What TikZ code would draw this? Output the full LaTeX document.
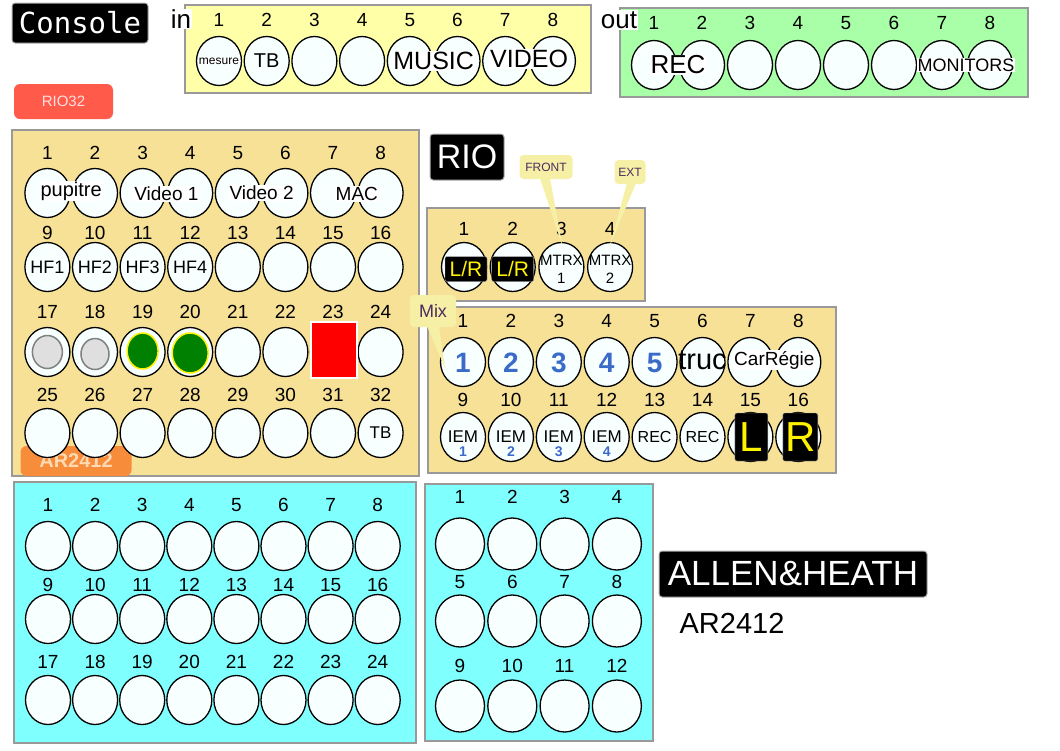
\documentclass[tikz,border=0pt]{standalone}
\usepackage{fontspec}
\setmainfont{Liberation Sans}
\newfontfamily\consolefont{DejaVu Sans Mono}
\usepackage{tikz}
\usetikzlibrary{shapes.geometric,calc}

\definecolor{inyellow}{HTML}{FFFFA8}
\definecolor{outgreen}{HTML}{A8FFA8}
\definecolor{riowheat}{HTML}{F7E196}
\definecolor{arcyan}{HTML}{80FFFF}
\definecolor{jackwhite}{HTML}{F8FFFF}
\definecolor{tipyellow}{HTML}{F6F0A6}
\definecolor{tiptext}{HTML}{4B2C5E}
\definecolor{mixblue}{HTML}{3A6BC8}
\definecolor{riored}{HTML}{FF5A4A}
\definecolor{arorange}{HTML}{F78C3A}

\newcommand\fsz[1]{\fontsize{#1}{#1}\selectfont}

\tikzset{
  panel/.style={draw=gray!80, line width=1.5pt},
  jack/.style={ellipse, draw=black, line width=1.3pt, fill=jackwhite, minimum width=45pt, minimum height=49pt, inner sep=0pt},
  num/.style={font=\fsz{19}, inner sep=0pt},
  tag/.style={fill=white, inner sep=1pt},
  titlebox/.style={fill=black, text=white, rounded corners=3pt, draw=gray!60, line width=1pt, inner sep=0pt},
  tipbox/.style={fill=tipyellow, text=tiptext, rounded corners=4pt, inner sep=0pt},
  keycap/.style={fill=black, text=yellow, rounded corners=2pt, draw=gray!60, inner sep=0pt}
}

\begin{document}
\begin{tikzpicture}[x=1pt,y=-1pt]
    \useasboundingbox (0,0) rectangle (1060,750);

    % Draw the console header
    \node[titlebox, font=\consolefont\fsz{29}, minimum width=136pt, minimum height=40pt] (console) at (80,23) {Console};

    % Draw the console inputs
    \draw[panel, fill=inyellow] (185,5) rectangle (591,93);
    \node[tag, font=\fsz{26}] (inlabel) at (181,19) {in};
    \foreach \i in {1,...,8} {
        \node[num] (innum\i) at ({219+47.7*(\i-1)},20) {\i};
        \node[jack] (in\i) at ({219+47.7*(\i-1)},61) {};
    }
    \node[tag, font=\fsz{12}, inner sep=0pt] (mesure) at (in1) {mesure};
    \node[font=\fsz{20}] (intb) at (in2) {TB};
    \node[tag, font=\fsz{25}] (music) at ($(in5)!0.5!(in6)$) {MUSIC};
    \node[tag, font=\fsz{25}] (video) at ($(in7)!0.5!(in8)+(0,-2)$) {VIDEO};

    % Draw the console outputs
    \draw[panel, fill=outgreen] (620,8) rectangle (1028,97);
    \node[tag, font=\fsz{26}] (outlabel) at (619,20) {out};
    \foreach \i in {1,...,8} {
        \node[num] (outnum\i) at ({654+48*(\i-1)},23) {\i};
        \node[jack] (out\i) at ({654+48*(\i-1)},65) {};
    }
    \node[tag, font=\fsz{26}] (rec) at ($(out1)!0.5!(out2)$) {REC};
    \node[tag, font=\fsz{18}] (monitors) at ($(out7)!0.5!(out8)$) {MONITORS};

    % Draw the RIO32 button
    \node[fill=riored, text=red!12, rounded corners=6pt, font=\fsz{15}, minimum width=99pt, minimum height=35pt] (rio32btn) at (63.5,101.5) {RIO32};

    % Draw the RIO32 inputs
    \draw[panel, fill=riowheat] (12,130) rectangle (419,476);
    \node[fill=arorange, text=orange!30, rounded corners=6pt, font=\bfseries\fsz{20}, minimum width=111pt, minimum height=30pt, inner sep=0pt] (artab) at (76,461) {AR2412};
    \foreach \r/\ny/\cy in {0/153/193, 1/233/267, 2/312/352, 3/395/433} {
        \foreach \c in {1,...,8} {
            \pgfmathtruncatemacro\n{8*\r+\c}
            \node[num] (rnum\n) at ({47.4+47.6*(\c-1)},\ny) {\n};
            \node[jack] (r\n) at ({47.4+47.6*(\c-1)},\cy) {};
        }
    }
    \node[tag, font=\fsz{20}] (pupitre) at ($(r1)!0.5!(r2)+(0,-2)$) {pupitre};
    \node[tag, font=\fsz{19}] (video1) at ($(r3)!0.5!(r4)+(0,1)$) {Video 1};
    \node[tag, font=\fsz{19}] (video2) at ($(r5)!0.5!(r6)$) {Video 2};
    \node[tag, font=\fsz{19}] (mac) at ($(r7)!0.5!(r8)+(0,1)$) {MAC};
    \foreach \i/\j in {9/1, 10/2, 11/3, 12/4}
        \node[font=\fsz{18}, inner sep=0pt] (hf\j) at (r\i) {HF\j};
    \node[ellipse, fill=gray!25, draw=gray, line width=1.5pt, minimum width=30pt, minimum height=33pt, inner sep=0pt] (r17in) at (r17) {};
    \node[ellipse, fill=gray!25, draw=gray, line width=1.5pt, minimum width=28pt, minimum height=31pt, inner sep=0pt] (r18in) at ($(r18)+(0,2)$) {};
    \node[ellipse, fill=green!50!black, draw=yellow, line width=1.5pt, minimum width=31pt, minimum height=36pt, inner sep=0pt] (r19in) at ($(r19)+(0,-1)$) {};
    \node[ellipse, fill=green!50!black, draw=yellow, line width=1.5pt, minimum width=36pt, minimum height=40pt, inner sep=0pt] (r20in) at ($(r20)+(0,1)$) {};
    \node[fill=red, draw=white, line width=1.5pt, minimum width=46pt, minimum height=56pt, inner sep=0pt] (r23box) at (334,350) {};
    \node[font=\fsz{17}] (r32tb) at (r32) {TB};

    % Draw the RIO header
    \node[titlebox, font=\fsz{34}, minimum width=74pt, minimum height=46pt] (rio) at (467,157) {RIO};

    % Draw the RIO outputs
    \draw[panel, fill=riowheat] (427,208) rectangle (645,301);
    \foreach \i in {1,...,4} {
        \node[num] (onum\i) at ({464+48.7*(\i-1)},229) {\i};
        \node[jack] (o\i) at ({464+48.7*(\i-1)},267) {};
    }
    \node[keycap, font=\fsz{21}, minimum width=42pt, minimum height=25pt] (lr1) at ($(o1)+(2,2)$) {L/R};
    \node[keycap, font=\fsz{21}, minimum width=42pt, minimum height=25pt] (lr2) at ($(o2)+(0,2)$) {L/R};
    \node[align=center, font=\fontsize{15}{18}\selectfont, inner sep=0pt] (mtrx1) at ($(o3)+(0,2)$) {MTRX\\1};
    \node[align=center, font=\fontsize{15}{18}\selectfont, inner sep=0pt] (mtrx2) at ($(o4)+(0,2)$) {MTRX\\2};

    % Draw the FRONT and EXT notes
    \node[tipbox, font=\fsz{12}, minimum width=53pt, minimum height=24pt] (front) at (546,167) {FRONT};
    \fill[tipyellow] ($(front.south)+(-6,-1)$) -- ($(o3.north)+(1,4)$) -- ($(front.south)+(4,-1)$) -- cycle;
    \node[tipbox, font=\fsz{12}, minimum width=31pt, minimum height=24pt] (ext) at (630,172) {EXT};
    \fill[tipyellow] ($(ext.south)+(-3,-1)$) -- ($(o4.north)+(-1,6)$) -- ($(ext.south)+(6,-1)$) -- cycle;

    % Draw the mix outputs
    \draw[panel, fill=riowheat] (428,307) rectangle (836,473);
    \foreach \r/\ny/\cy in {0/321/362, 1/400/437} {
        \foreach \c in {1,...,8} {
            \pgfmathtruncatemacro\n{8*\r+\c}
            \node[num] (mnum\n) at ({463+47.9*(\c-1)},\ny) {\n};
            \node[jack] (m\n) at ({463+47.9*(\c-1)},\cy) {};
        }
    }
    \foreach \i in {1,...,5}
        \node[font=\bfseries\fsz{28}, text=mixblue, inner sep=0pt] (mix\i) at ($(m\i)+(0,1)$) {\i};
    \node[font=\fsz{29}, inner sep=0pt] (truc) at ($(m6)+(0,-2)$) {truc};
    \node[tag, font=\fsz{19}] (carregie) at ($(m7)!0.5!(m8)+(0,-2)$) {CarRégie};
    \foreach \i/\j in {9/1, 10/2, 11/3, 12/4} {
        \node[font=\fsz{17}, inner sep=0pt] (iem\j) at ($(m\i)+(0,0)$) {IEM};
        \node[font=\bfseries\fsz{14}, text=mixblue, inner sep=0pt] (iemnum\j) at ($(m\i)+(0,15)$) {\j};
    }
    \node[font=\fsz{16}, inner sep=0pt] (rec13) at (m13) {REC};
    \node[font=\fsz{16}, inner sep=0pt] (rec14) at (m14) {REC};
    \node[keycap, font=\fsz{42}, minimum width=33pt, minimum height=48pt] (keyl) at ($(m15)+(1,0)$) {L};
    \node[keycap, font=\fsz{42}, minimum width=35pt, minimum height=48pt] (keyr) at ($(m16)+(2,0)$) {R};

    % Draw the Mix note
    \node[tipbox, font=\fsz{18}, minimum width=46pt, minimum height=32pt] (mix) at (433,311) {Mix};
    \fill[tipyellow] ($(mix.south)+(-6,-1)$) -- ($(m1)+(-18,6)$) -- ($(mix.south)+(6,-1)$) -- cycle;

    % Draw the AR2412 inputs
    \draw[panel, fill=arcyan] (14,482) rectangle (416,743);
    \foreach \r/\ny/\cy in {0/505/546, 1/585/619, 2/662/700} {
        \foreach \c in {1,...,8} {
            \pgfmathtruncatemacro\n{8*\r+\c}
            \node[num] (anum\n) at ({48+47.1*(\c-1)},\ny) {\n};
            \node[jack] (a\n) at ({48+47.1*(\c-1)},\cy) {};
        }
    }

    % Draw the AR2412 outputs
    \draw[panel, fill=arcyan] (425,484) rectangle (653,741);
    \foreach \r/\ny/\cy in {0/497/544, 1/582/621, 2/666/706} {
        \foreach \c in {1,...,4} {
            \pgfmathtruncatemacro\n{4*\r+\c}
            \node[num] (bnum\n) at ({460+52.3*(\c-1)},\ny) {\n};
            \node[jack, minimum width=49pt, minimum height=52pt] (b\n) at ({460+52.3*(\c-1)},\cy) {};
        }
    }

    % Draw the ALLEN&HEATH header
    \node[titlebox, font=\fsz{35}, minimum width=268pt, minimum height=46pt] (allen) at (793,574) {ALLEN\&HEATH};
    \node[font=\fsz{29}, inner sep=0pt] (ar2412) at (732,623) {AR2412};

\end{tikzpicture}
\end{document}
